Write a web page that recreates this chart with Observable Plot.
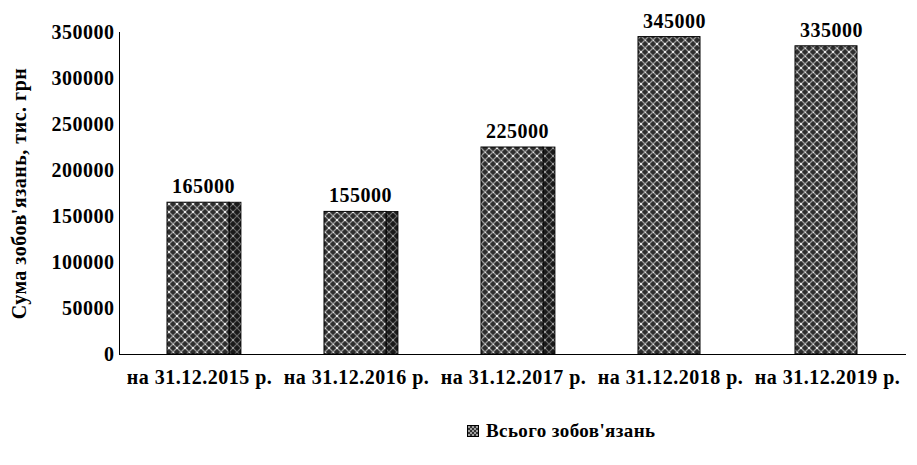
<!DOCTYPE html>
<html>
<head>
<meta charset="utf-8">
<script src="https://cdn.jsdelivr.net/npm/d3@7"></script>
<script src="https://cdn.jsdelivr.net/npm/@observablehq/plot@0.6"></script>
<style>
  body { margin: 0; background: #fff; }
  #chart { width: 917px; }
  #chart text { letter-spacing: 0.5px; }
  .legend { font-family: "Liberation Serif", serif; font-weight: bold; font-size: 19px; letter-spacing: 0.4px;
            display: flex; align-items: center; padding-left: 467px; margin-top: 26px; color: #000; }
  .legend svg { margin-right: 7px; }
</style>
</head>
<body>
<div id="chart"></div>
<script>
const categories = ["на 31.12.2015 р.", "на 31.12.2016 р.", "на 31.12.2017 р.", "на 31.12.2018 р.", "на 31.12.2019 р."];
const values = [165000, 155000, 225000, 345000, 335000];
const yTicks = [0, 50000, 100000, 150000, 200000, 250000, 300000, 350000];
const seriesName = "Всього зобов'язань";
const yLabel = "Сума зобов'язань, тис. грн";

const data = categories.map((c, i) => ({ cat: c, value: values[i], idx: i }));

const plot = Plot.plot({
  width: 917,
  height: 394,
  marginLeft: 119,
  marginRight: 11,
  marginTop: 32,
  marginBottom: 40,
  style: { fontFamily: "Liberation Serif, serif", fontWeight: "bold", fontSize: "20px", color: "#000", background: "#fff" },
  x: { domain: categories, paddingInner: 0.53, paddingOuter: 0.265 },
  y: { domain: [0, 350000] },
  marks: [
    // side (3D) faces
    Plot.barY(data.filter(d => d.idx < 3), { x: "cat", y: "value", insetLeft: 62, dx: 5, fill: "url(#hatchDark)", stroke: "#000", strokeWidth: 0.8 }),
    // front faces
    Plot.barY(data, { x: "cat", y: "value", insetRight: 12, dx: 5, fill: "url(#hatch)", stroke: "#000", strokeWidth: 1 }),
    Plot.ruleY([0], { stroke: "#000", strokeWidth: 1 }),
    Plot.axisY({ ticks: yTicks, tickSize: 0, tickPadding: 5, tickFormat: d3.format("d"),
                 label: yLabel, labelAnchor: "center", labelArrow: "none", labelOffset: 108,
                 fontSize: 20 }),
    Plot.axisX({ tickSize: 0, tickPadding: 15, label: null, fontSize: 20 }),
    Plot.frame({ anchor: "left", stroke: "#000" }),
    Plot.text(data, { x: "cat", y: "value", text: d => String(d.value), dy: -16, dx: 4, fontSize: 20, fontWeight: "bold", fill: "#000" })
  ]
});

const NS = "http://www.w3.org/2000/svg";
const defs = document.createElementNS(NS, "defs");
defs.innerHTML = `
  <pattern id="hatch" width="8" height="8" patternUnits="userSpaceOnUse">
    <rect width="8" height="8" fill="#2e2e2e"/>
    <path d="M0,0 L8,8 M8,0 L0,8" stroke="#9a9a9a" stroke-width="1.3"/>
    <rect x="3" y="3" width="2" height="2" fill="#e8e8e8"/>
    <rect x="0" y="0" width="1" height="1" fill="#dcdcdc"/>
  </pattern>
  <pattern id="hatchDark" width="8" height="8" patternUnits="userSpaceOnUse">
    <rect width="8" height="8" fill="#1a1a1a"/>
    <path d="M0,0 L8,8 M8,0 L0,8" stroke="#6a6a6a" stroke-width="1.2"/>
    <rect x="3" y="3" width="2" height="2" fill="#9a9a9a"/>
  </pattern>`;
plot.insertBefore(defs, plot.firstChild);
document.getElementById("chart").appendChild(plot);

const legend = document.createElement("div");
legend.className = "legend";
legend.innerHTML = `<svg width="12" height="12"><defs>
  <pattern id="hatchL" width="4" height="4" patternUnits="userSpaceOnUse">
    <rect width="4" height="4" fill="#333"/>
    <path d="M0,0 L4,4 M4,0 L0,4" stroke="#bbb" stroke-width="0.8"/>
  </pattern></defs>
  <rect x="0.5" y="0.5" width="11" height="11" fill="url(#hatchL)" stroke="#000"/></svg><span>${seriesName}</span>`;
document.body.appendChild(legend);
</script>
</body>
</html>
